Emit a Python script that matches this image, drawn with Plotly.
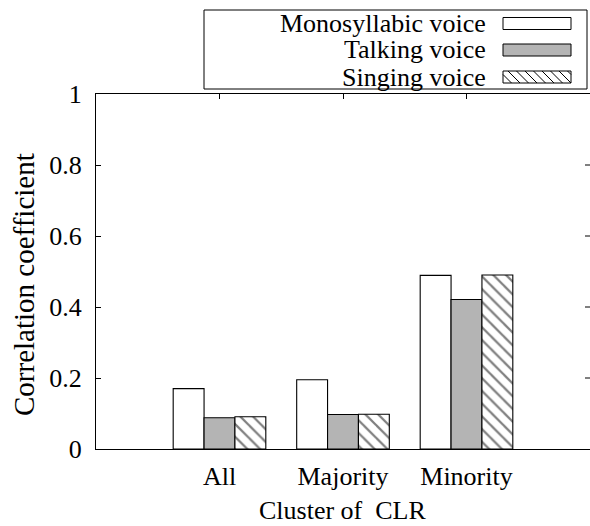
import plotly.graph_objects as go

# Data
clusters = ["All", "Majority", "Minority"]
series_names = ["Monosyllabic voice", "Talking voice", "Singing voice"]
monosyllabic = [0.170, 0.195, 0.489]
talking = [0.088, 0.097, 0.421]
singing = [0.091, 0.098, 0.490]
y_ticks = [0, 0.2, 0.4, 0.6, 0.8, 1]
y_tick_text = ["0", "0.2", "0.4", "0.6", "0.8", "1"]

FONT = "Liberation Serif"
FS = 26
W, H = 590, 526
M_L, M_R, M_T, M_B = 96, 0, 94, 77
PW, PH = W - M_L - M_R, H - M_T - M_B


def px_x(px):
    """Page pixel column -> paper x."""
    return (px - M_L) / PW


def px_y(py):
    """Page pixel row -> paper y."""
    return (H - M_B - py) / PH


HATCH = dict(shape="\\", fgcolor="black", bgcolor="white", size=9, solidity=0.25)
fills = ["white", "#b4b4b4", "white"]
patterns = [None, None, HATCH]
values = [monosyllabic, talking, singing]

fig = go.Figure()

for name, vals, fill, pat in zip(series_names, values, fills, patterns):
    marker = dict(color=fill, line=dict(color="black", width=1.1))
    if pat:
        marker["pattern"] = pat
    fig.add_trace(go.Bar(x=clusters, y=vals, name=name, marker=marker, showlegend=False))

shapes = []

# Mirror ticks on the right edge (no right border line)
for t in y_ticks[1:-1]:
    shapes.append(dict(type="line", xref="paper", yref="y", x0=1 - 5 / PW, x1=1,
                       y0=t, y1=t, line=dict(color="black", width=1)))

# Key box
shapes.append(dict(type="rect", xref="paper", yref="paper",
                   x0=px_x(204), x1=px_x(587), y0=px_y(89), y1=px_y(10),
                   line=dict(color="black", width=1), fillcolor="white"))

key_rows = [23.5, 50.0, 77.0]
sw_l, sw_r, sw_h = 503, 571, 12
text_right = 487
for name, row, fill, pat in zip(series_names, key_rows, fills, patterns):
    top, bot = row - sw_h / 2, row + sw_h / 2
    shapes.append(dict(type="rect", xref="paper", yref="paper",
                       x0=px_x(sw_l), x1=px_x(sw_r), y0=px_y(bot), y1=px_y(top),
                       line=dict(color="black", width=1), fillcolor=fill))
    if pat:
        # diagonal hatching clipped to the swatch
        step = 8.5
        xs = sw_l - sw_h
        while xs < sw_r:
            ax, ay, bx, by = xs, top, xs + sw_h, bot
            if ax < sw_l:
                ay = top + (sw_l - ax)
                ax = sw_l
            if bx > sw_r:
                by = bot - (bx - sw_r)
                bx = sw_r
            if bx > ax:
                shapes.append(dict(type="line", xref="paper", yref="paper",
                                   x0=px_x(ax), y0=px_y(ay), x1=px_x(bx), y1=px_y(by),
                                   line=dict(color="black", width=1)))
            xs += step
    # label box kept to the row pitch; text sits on the box bottom
    fig.add_annotation(x=px_x(text_right), y=px_y(row + 1.5), xref="paper", yref="paper",
                       text=name, showarrow=False, xanchor="right", yanchor="middle",
                       height=26, valign="bottom", borderpad=0,
                       font=dict(family=FONT, size=FS, color="black"))

# Axis titles
fig.add_annotation(x=px_x(342), y=px_y(525.5), xref="paper", yref="paper",
                   text="Cluster of  CLR", showarrow=False,
                   xanchor="center", yanchor="bottom", borderpad=0,
                   font=dict(family=FONT, size=FS, color="black"))
fig.add_annotation(x=px_x(24), y=px_y(285), xref="paper", yref="paper",
                   text="Correlation coefficient", showarrow=False, textangle=-90,
                   xanchor="center", yanchor="middle",
                   font=dict(family=FONT, size=29, color="black"))

fig.update_layout(
    width=W, height=H,
    margin=dict(l=M_L, r=M_R, t=M_T, b=M_B, pad=0),
    paper_bgcolor="white", plot_bgcolor="white",
    barmode="group", bargap=0.25, bargroupgap=0,
    font=dict(family=FONT, size=FS, color="black"),
    shapes=shapes,
    xaxis=dict(type="category", range=[-1, 3],
               showline=True, linecolor="black", linewidth=1, mirror="ticks",
               ticks="inside", ticklen=5, tickcolor="black", showgrid=False,
               zeroline=False, layer="below traces", ticklabelstandoff=4,
               tickfont=dict(family=FONT, size=FS, color="black")),
    yaxis=dict(range=[0, 1], tickvals=y_ticks, ticktext=y_tick_text,
               showline=True, linecolor="black", linewidth=1, mirror=False,
               ticks="inside", ticklen=5, tickcolor="black", showgrid=False,
               zeroline=False, layer="below traces", ticklabelstandoff=8,
               tickfont=dict(family=FONT, size=FS, color="black")),
)

fig.write_html("out.html")
